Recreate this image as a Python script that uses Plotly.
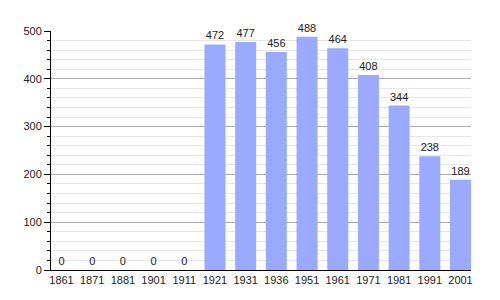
import plotly.graph_objects as go

years = ["1861", "1871", "1881", "1901", "1911", "1921", "1931", "1936",
         "1951", "1961", "1971", "1981", "1991", "2001"]
population = [0, 0, 0, 0, 0, 472, 477, 456, 488, 464, 408, 344, 238, 189]

bar_color = "#9aabff"
text_color = "#222222"
font_family = "Liberation Sans, Arial, sans-serif"

fig = go.Figure()
fig.add_trace(go.Bar(
    x=years, y=population,
    marker=dict(color=bar_color, line=dict(width=0)),
    text=[str(v) for v in population],
    textposition="outside",
    constraintext="none",
    cliponaxis=False,
    textfont=dict(size=11, color=text_color, family=font_family),
    hoverinfo="x+y",
))

bargap = 0.316
half = (1 - bargap) / 2

fig.update_layout(
    width=500, height=300,
    margin=dict(l=51, r=29, t=31, b=30),
    paper_bgcolor="white", plot_bgcolor="white",
    bargap=bargap,
    showlegend=False,
    font=dict(family=font_family, size=11, color=text_color),
    xaxis=dict(
        type="category",
        range=[-half, len(years) - 1 + half],
        showline=True, linecolor="black", linewidth=1,
        ticks="", showgrid=False,
        tickfont=dict(size=11, color=text_color),
        fixedrange=True,
    ),
    yaxis=dict(
        range=[0, 500], dtick=100, tick0=0,
        showline=True, linecolor="black", linewidth=1,
        ticks="outside", ticklen=6, tickcolor="black", tickwidth=1,
        showgrid=True, gridcolor="#aaaaaa", gridwidth=1,
        zeroline=False,
        tickfont=dict(size=11, color=text_color),
        minor=dict(dtick=20, ticks="outside", ticklen=3, tickcolor="black",
                   showgrid=True, gridcolor="#e6e6e6", gridwidth=1),
        fixedrange=True,
    ),
)

fig.write_html("out.html")
